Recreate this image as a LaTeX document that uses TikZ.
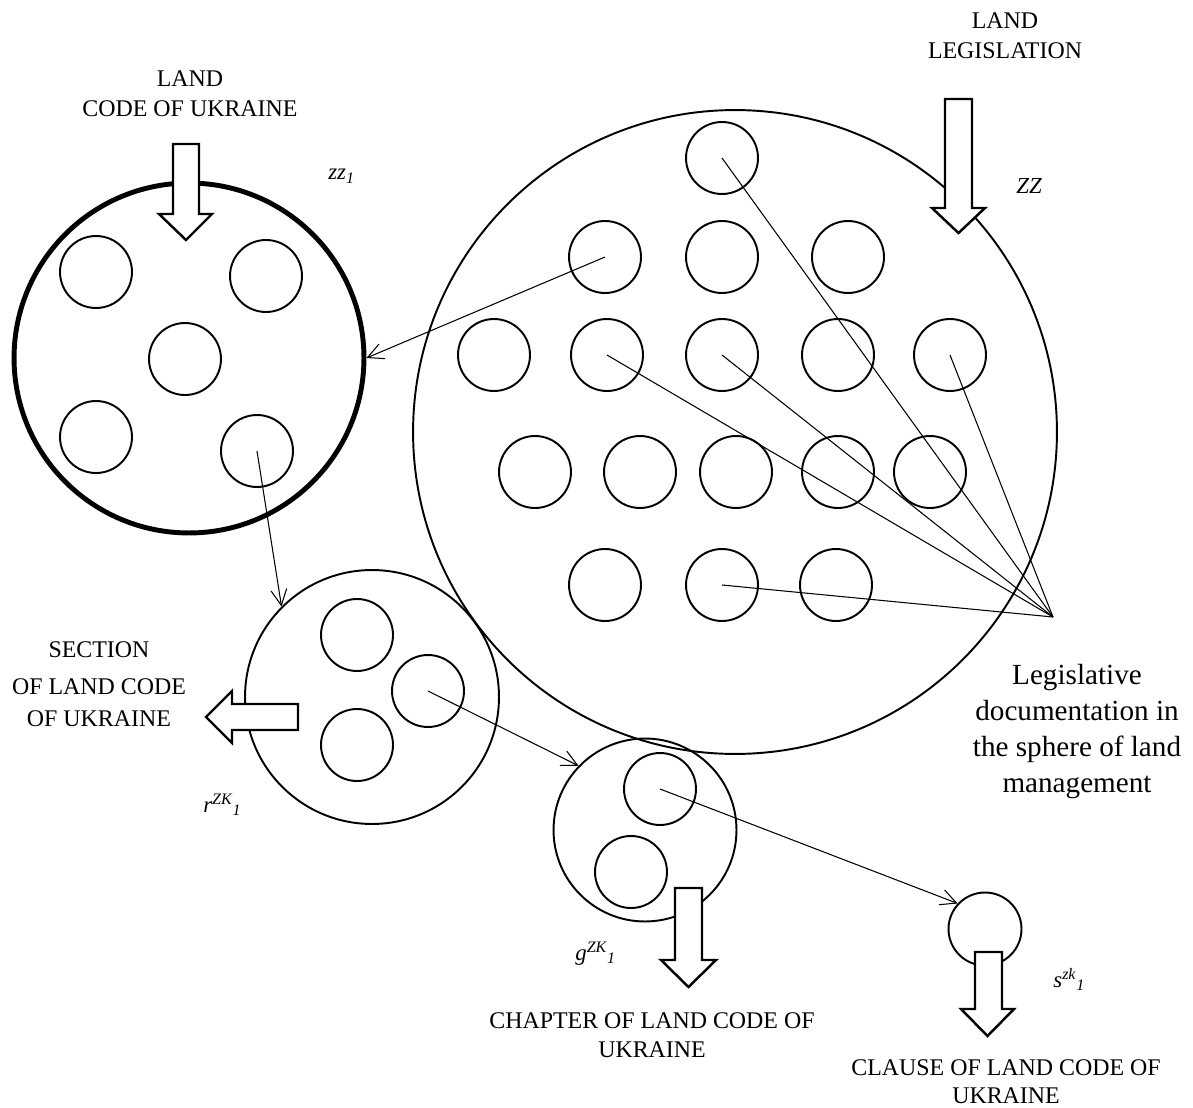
\documentclass[tikz,border=0pt]{standalone}
\usepackage{fontspec}
\setmainfont{Liberation Serif}
\usetikzlibrary{arrows.meta}
\begin{document}
\begin{tikzpicture}[x=0.02cm,y=-0.02cm,
  sc/.style={circle,draw,line width=1.1pt,minimum size=1.44cm,inner sep=0pt},
  bigc/.style={circle,draw,line width=1.1pt,inner sep=0pt},
  conn/.style={line width=0.6pt},
  arr/.style={conn,-{Straight Barb[length=9pt,width=9pt]}},
  blk/.style={draw,line width=1.4pt,fill=white,line join=miter},
  caps/.style={font=\fontsize{13.6}{16}\selectfont,inner sep=0pt,anchor=base},
  big/.style={font=\fontsize{16.6}{20}\selectfont,inner sep=0pt,anchor=base},
  ital/.style={font=\fontsize{13}{15}\selectfont\itshape,inner sep=0pt,anchor=base west}]
\useasboundingbox (0,0) rectangle (1193,1108);

% left thick circle
\node[bigc,line width=2.8pt,minimum size=7.0cm] (zz) at (189,358) {};
\node[sc] (zA) at (96,272) {};
\node[sc] (zB) at (266,276) {};
\node[sc] (zC) at (185,359) {};
\node[sc] (zD) at (96,437) {};
\node[sc] (zE) at (257,451) {};

% big circle
\node[bigc,minimum size=12.88cm] (ZZ) at (735,432) {};
\node[sc] (b0) at (722,158) {};
\node[sc] (b11) at (605,257) {};
\node[sc] (b12) at (722,257) {};
\node[sc] (b13) at (848,257) {};
\node[sc] (b21) at (494,355) {};
\node[sc] (b22) at (607,355) {};
\node[sc] (b23) at (722,355) {};
\node[sc] (b24) at (838,355) {};
\node[sc] (b25) at (950,355) {};
\node[sc] (b31) at (535,472) {};
\node[sc] (b32) at (640,472) {};
\node[sc] (b33) at (736,472) {};
\node[sc] (b34) at (838,472) {};
\node[sc] (b35) at (930,472) {};
\node[sc] (b41) at (605,585) {};
\node[sc] (b42) at (722,585) {};
\node[sc] (b43) at (836,585) {};
\coordinate (conv) at (1053,617);

% section circle
\node[bigc,minimum size=5.08cm] (rr) at (372,697) {};
\node[sc] (r1) at (357,635) {};
\node[sc] (r2) at (428,691) {};
\node[sc] (r3) at (357,745) {};

% chapter circle
\node[bigc,minimum size=3.66cm] (gg) at (645,830) {};
\node[sc] (g1) at (660,789) {};
\node[sc] (g2) at (631,872) {};

% clause circle
\node[sc,minimum size=1.46cm] (ss) at (985,929) {};

% connectors
\foreach \n in {b0,b22,b23,b25,b42} \draw[conn] (\n.center) -- (conv);
\draw[arr] (b11.center) -- (zz.east);
\draw[arr] (zE.center) -- (rr.135);
\draw[arr] (r2.center) -- (gg.136);
\draw[arr] (g1.center) -- (ss.137);

% block arrows
\draw[blk] (173,144) -- (199,144) -- (199,214) -- (212,214) -- (186,240) -- (159,214) -- (173,214) -- cycle;
\draw[blk] (945,99) -- (972,99) -- (972,208) -- (985,208) -- (958.5,233) -- (932,208) -- (945,208) -- cycle;
\draw[blk] (675,888) -- (702,888) -- (702,960) -- (716,960) -- (688.5,987) -- (661,960) -- (675,960) -- cycle;
\draw[blk] (975,952) -- (1002,952) -- (1002,1009) -- (1014,1009) -- (987.5,1036) -- (961,1009) -- (975,1009) -- cycle;
\draw[blk] (298,704) -- (298,730) -- (232,730) -- (232,743) -- (206,717) -- (232,691) -- (232,704) -- cycle;

% labels
\node[caps] (t1) at (190,87) {LAND};
\node[caps] (t2) at (190,117) {CODE OF UKRAINE};
\node[caps] (t3) at (1005,29) {LAND};
\node[caps] (t4) at (1005,59) {LEGISLATION};
\node[caps] (t5) at (99,657) {SECTION};
\node[caps] (t6) at (99,694) {OF LAND CODE};
\node[caps] (t7) at (99,726) {OF UKRAINE};
\node[caps] (t8) at (652,1028) {CHAPTER OF LAND CODE OF};
\node[caps] (t9) at (652,1057) {UKRAINE};
\node[caps] (t10) at (1006,1075) {CLAUSE OF LAND CODE OF};
\node[caps] (t11) at (1006,1103) {UKRAINE};
\node[big] (L1) at (1077,684) {Legislative};
\node[big] (L2) at (1077,720) {documentation in};
\node[big] (L3) at (1077,756) {the sphere of land};
\node[big] (L4) at (1077,792) {management};

\node[ital] (lzz) at (328,180) {zz\textsubscript{1}};
\node[ital] (lZZ) at (1016,194) {ZZ};
\node[ital] (lr) at (203,812) {r\textsuperscript{ZK}\textsubscript{1}};
\node[ital] (lg) at (575,960) {g\textsuperscript{ZK}\textsubscript{1}};
\node[ital] (ls) at (1053,987) {s\textsuperscript{zk}\textsubscript{1}};
\end{tikzpicture}
\end{document}
